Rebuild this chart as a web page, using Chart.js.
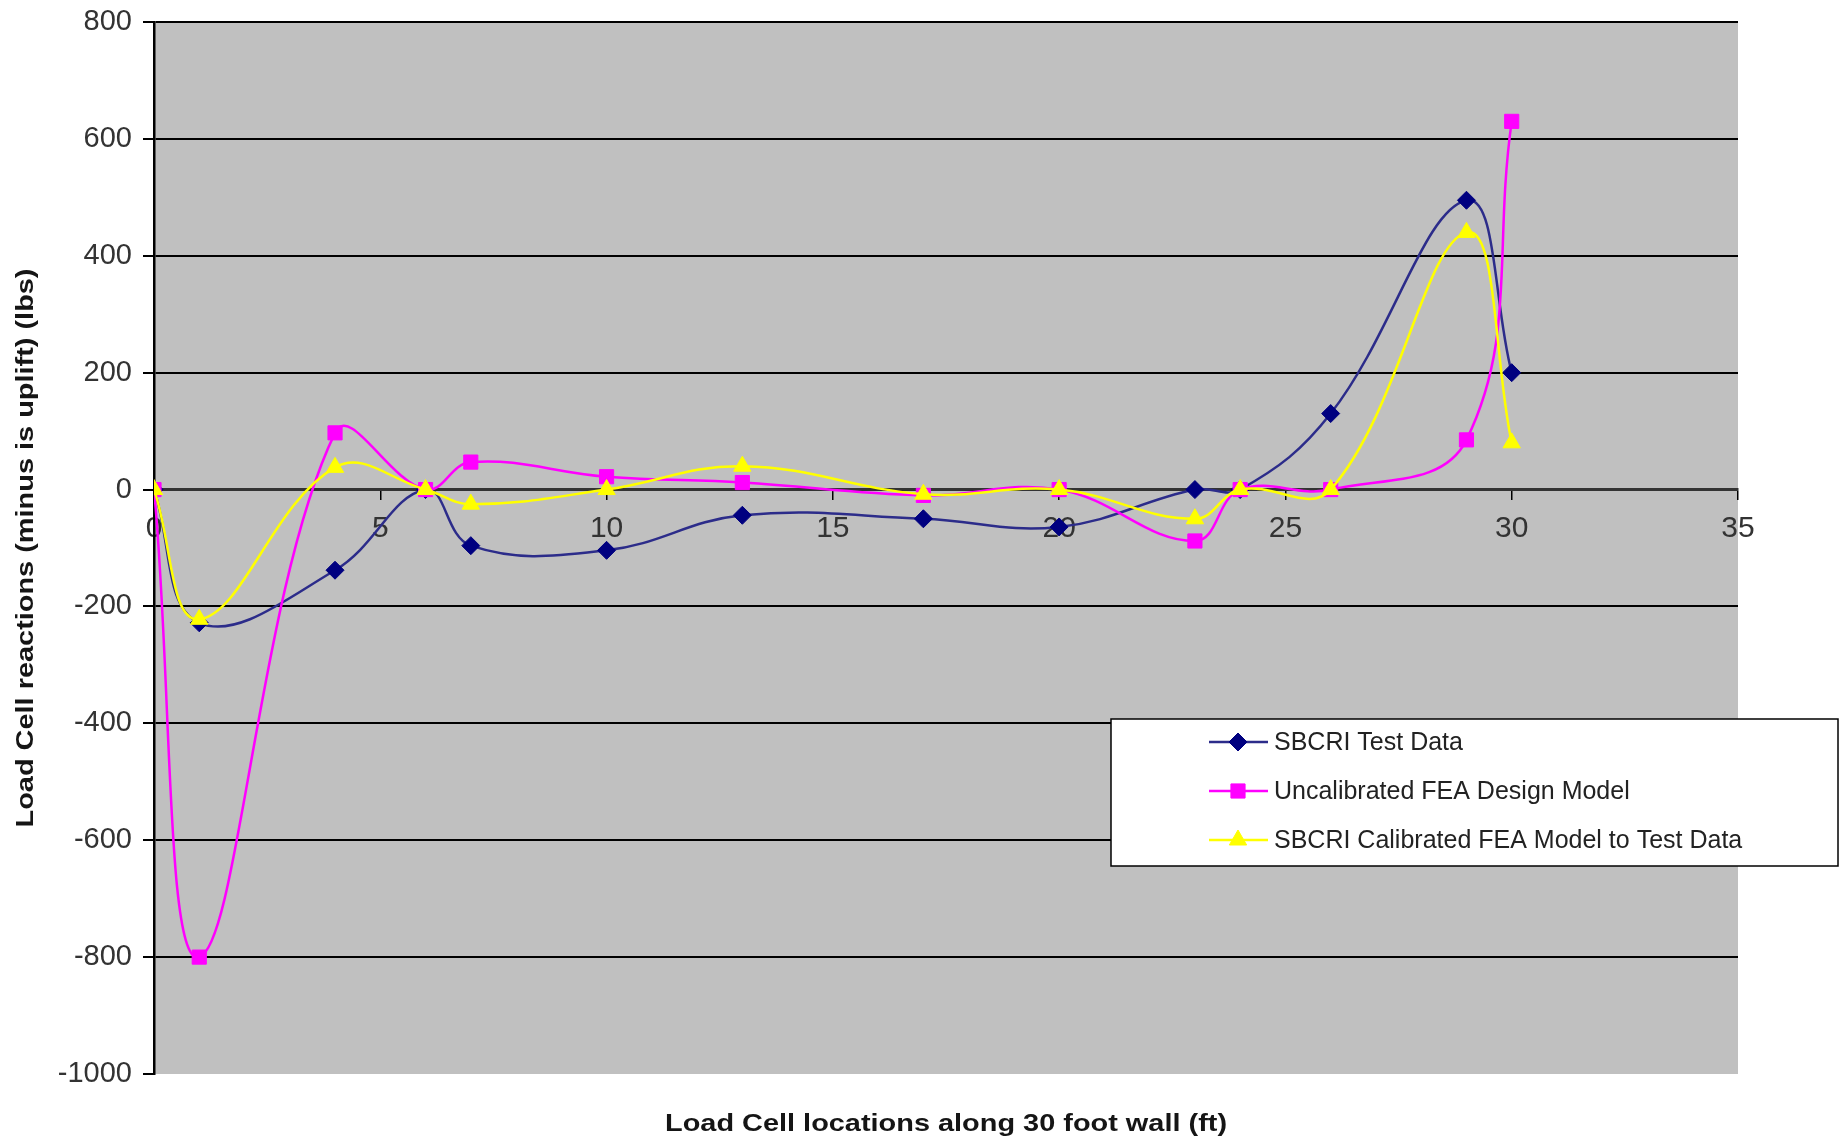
<!DOCTYPE html>
<html>
<head>
<meta charset="utf-8">
<script src="https://cdn.jsdelivr.net/npm/chart.js@4.4.1/dist/chart.umd.min.js"></script>
<style>
body{margin:0;background:#fff;}
#wrap{position:relative;width:1844px;height:1142px;}
</style>
</head>
<body>
<div id="wrap"><canvas id="lineChart"></canvas></div>
<script>
// load cell positions along the wall (ft)
var cellPos = [0, 1, 4, 6, 7, 10, 13, 17, 20, 23, 24, 26, 29, 30];
var testData = [0, -228, -138, 0, -96, -104, -44, -50, -64, 0, 0, 130, 495, 200];
var uncalData = [0, -800, 97, 0, 47, 22, 12, -10, 0, -88, 0, 0, 85, 630];
var calData = [0, -222, 38, 0, -25, 0, 40, -8, 0, -50, 0, 0, 440, 80];
var seriesNames = ["SBCRI Test Data", "Uncalibrated FEA Design Model", "SBCRI Calibrated FEA Model to Test Data"];
var xTitle = "Load Cell locations along 30 foot wall (ft)";
var yTitle = "Load Cell reactions (minus is uplift) (lbs)";
var xTicks = [0, 5, 10, 15, 20, 25, 30, 35];
var yTicks = [-1000, -800, -600, -400, -200, 0, 200, 400, 600, 800];

var FONT = "'Liberation Sans', Arial, sans-serif";

function toPoints(xs, ys){
	var pts = [];
	for(var i = 0; i < xs.length; i++){
		pts.push({x: xs[i], y: ys[i]});
	}
	return pts;
}

// text stretched along its length to a given width
function stretchText(ctx, text, x, y, len, rot){
	var w = ctx.measureText(text).width;
	ctx.save();
	ctx.translate(x, y);
	ctx.rotate(rot);
	ctx.scale(len / w, 1);
	ctx.fillText(text, 0, 0);
	ctx.restore();
}

//plot background, axis titles, legend box
var decorPlugin = {
	id: "decor",
	beforeDraw: function(chart){
		var a = chart.chartArea, ctx = chart.ctx;
		ctx.save();
		ctx.fillStyle = "#c0c0c0";
		ctx.fillRect(a.left, a.top, a.right - a.left, a.bottom - a.top);
		ctx.restore();
	},
	afterDraw: function(chart){
		var ctx = chart.ctx, a = chart.chartArea;
		ctx.save();
		ctx.fillStyle = "#151515";
		ctx.font = "bold 24px " + FONT;
		ctx.textAlign = "center";
		ctx.textBaseline = "middle";
		stretchText(ctx, xTitle, (a.left + a.right) / 2, 1124, 562, 0);
		stretchText(ctx, yTitle, 26, (a.top + a.bottom) / 2, 559, -Math.PI / 2);

		// legend
		var bx = 1111, by = 719, bw = 727, bh = 147;
		ctx.fillStyle = "#fff";
		ctx.fillRect(bx, by, bw, bh);
		ctx.strokeStyle = "#000";
		ctx.lineWidth = 1.5;
		ctx.strokeRect(bx, by, bw, bh);
		var ds = chart.data.datasets;
		var rows = [742, 791, 840];
		ctx.font = "25px " + FONT;
		ctx.textAlign = "left";
		for(var i = 0; i < ds.length; i++){
			var y = rows[i];
			ctx.strokeStyle = ds[i].borderColor;
			ctx.lineWidth = 2.5;
			ctx.beginPath();
			ctx.moveTo(1209, y);
			ctx.lineTo(1268, y);
			ctx.stroke();
			ctx.fillStyle = ds[i].pointBackgroundColor;
			ctx.strokeStyle = ds[i].pointBorderColor;
			ctx.lineWidth = 1;
			Chart.helpers.drawPoint(ctx, {pointStyle: ds[i].pointStyle, radius: ds[i].pointRadius, borderWidth: 1, rotation: 0}, 1238, y);
			ctx.fillStyle = "#222";
			ctx.fillText(ds[i].label, 1274, y + 1);
		}
		ctx.restore();
	}
};

var chartData = {
	datasets: [
		{
			label: seriesNames[0],
			data: toPoints(cellPos, testData),
			borderColor: "#2c2c8a",
			pointBackgroundColor: "#000080",
			pointBorderColor: "#000080",
			pointStyle: "rectRot",
			pointRadius: 9,
			order: 3
		},
		{
			label: seriesNames[1],
			data: toPoints(cellPos, uncalData),
			borderColor: "#ff00ff",
			pointBackgroundColor: "#ff00ff",
			pointBorderColor: "#ff00ff",
			pointStyle: "rect",
			pointRadius: 10,
			order: 2
		},
		{
			label: seriesNames[2],
			data: toPoints(cellPos, calData),
			borderColor: "#ffff00",
			pointBackgroundColor: "#ffff00",
			pointBorderColor: "#ffff00",
			pointStyle: "triangle",
			pointRadius: 10,
			order: 1
		}
	]
};
chartData.datasets.forEach(function(d){
	d.showLine = true;
	d.borderWidth = 2.5;
	d.tension = 0.4;
	d.fill = false;
	d.pointBorderWidth = 1;
});

var ctx = document.getElementById("lineChart").getContext("2d");
var chart = new Chart(ctx, {
	type: "scatter",
	data: chartData,
	plugins: [decorPlugin],
	options: {
		responsive: true,
		maintainAspectRatio: false,
		animation: false,
		layout: {padding: {left: 0, top: 22, right: 106, bottom: 68}},
		plugins: {legend: {display: false}, tooltip: {enabled: false}},
		scales: {
			x: {
				type: "linear",
				position: {y: 0},
				min: 0,
				max: 35,
				afterBuildTicks: function(scale){
					scale.ticks = xTicks.map(function(v){ return {value: v}; });
				},
				grid: {drawOnChartArea: false, color: "#000", tickLength: 9, lineWidth: 1.5},
				border: {display: true, color: "#333", width: 3},
				ticks: {
					color: "#333",
					font: {family: FONT, size: 30},
					padding: 12,
					maxRotation: 0,
					callback: function(v){ return String(v); }
				}
			},
			y: {
				type: "linear",
				min: -1000,
				max: 800,
				afterBuildTicks: function(scale){
					scale.ticks = yTicks.map(function(v){ return {value: v}; });
				},
				afterFit: function(scale){
					scale.width = 154;
					scale.paddingTop = 0;
					scale.paddingBottom = 0;
				},
				grid: {
					color: function(c){ return c.tick && c.tick.value === -1000 ? "rgba(0,0,0,0)" : "#000"; },
					tickColor: "#000",
					lineWidth: 2,
					tickLength: 11
				},
				border: {display: true, color: "#000", width: 2.5},
				ticks: {
					color: "#333",
					font: {family: FONT, size: 29},
					padding: 11,
					callback: function(v){ return String(v); }
				}
			}
		}
	}
});
</script>
</body>
</html>
